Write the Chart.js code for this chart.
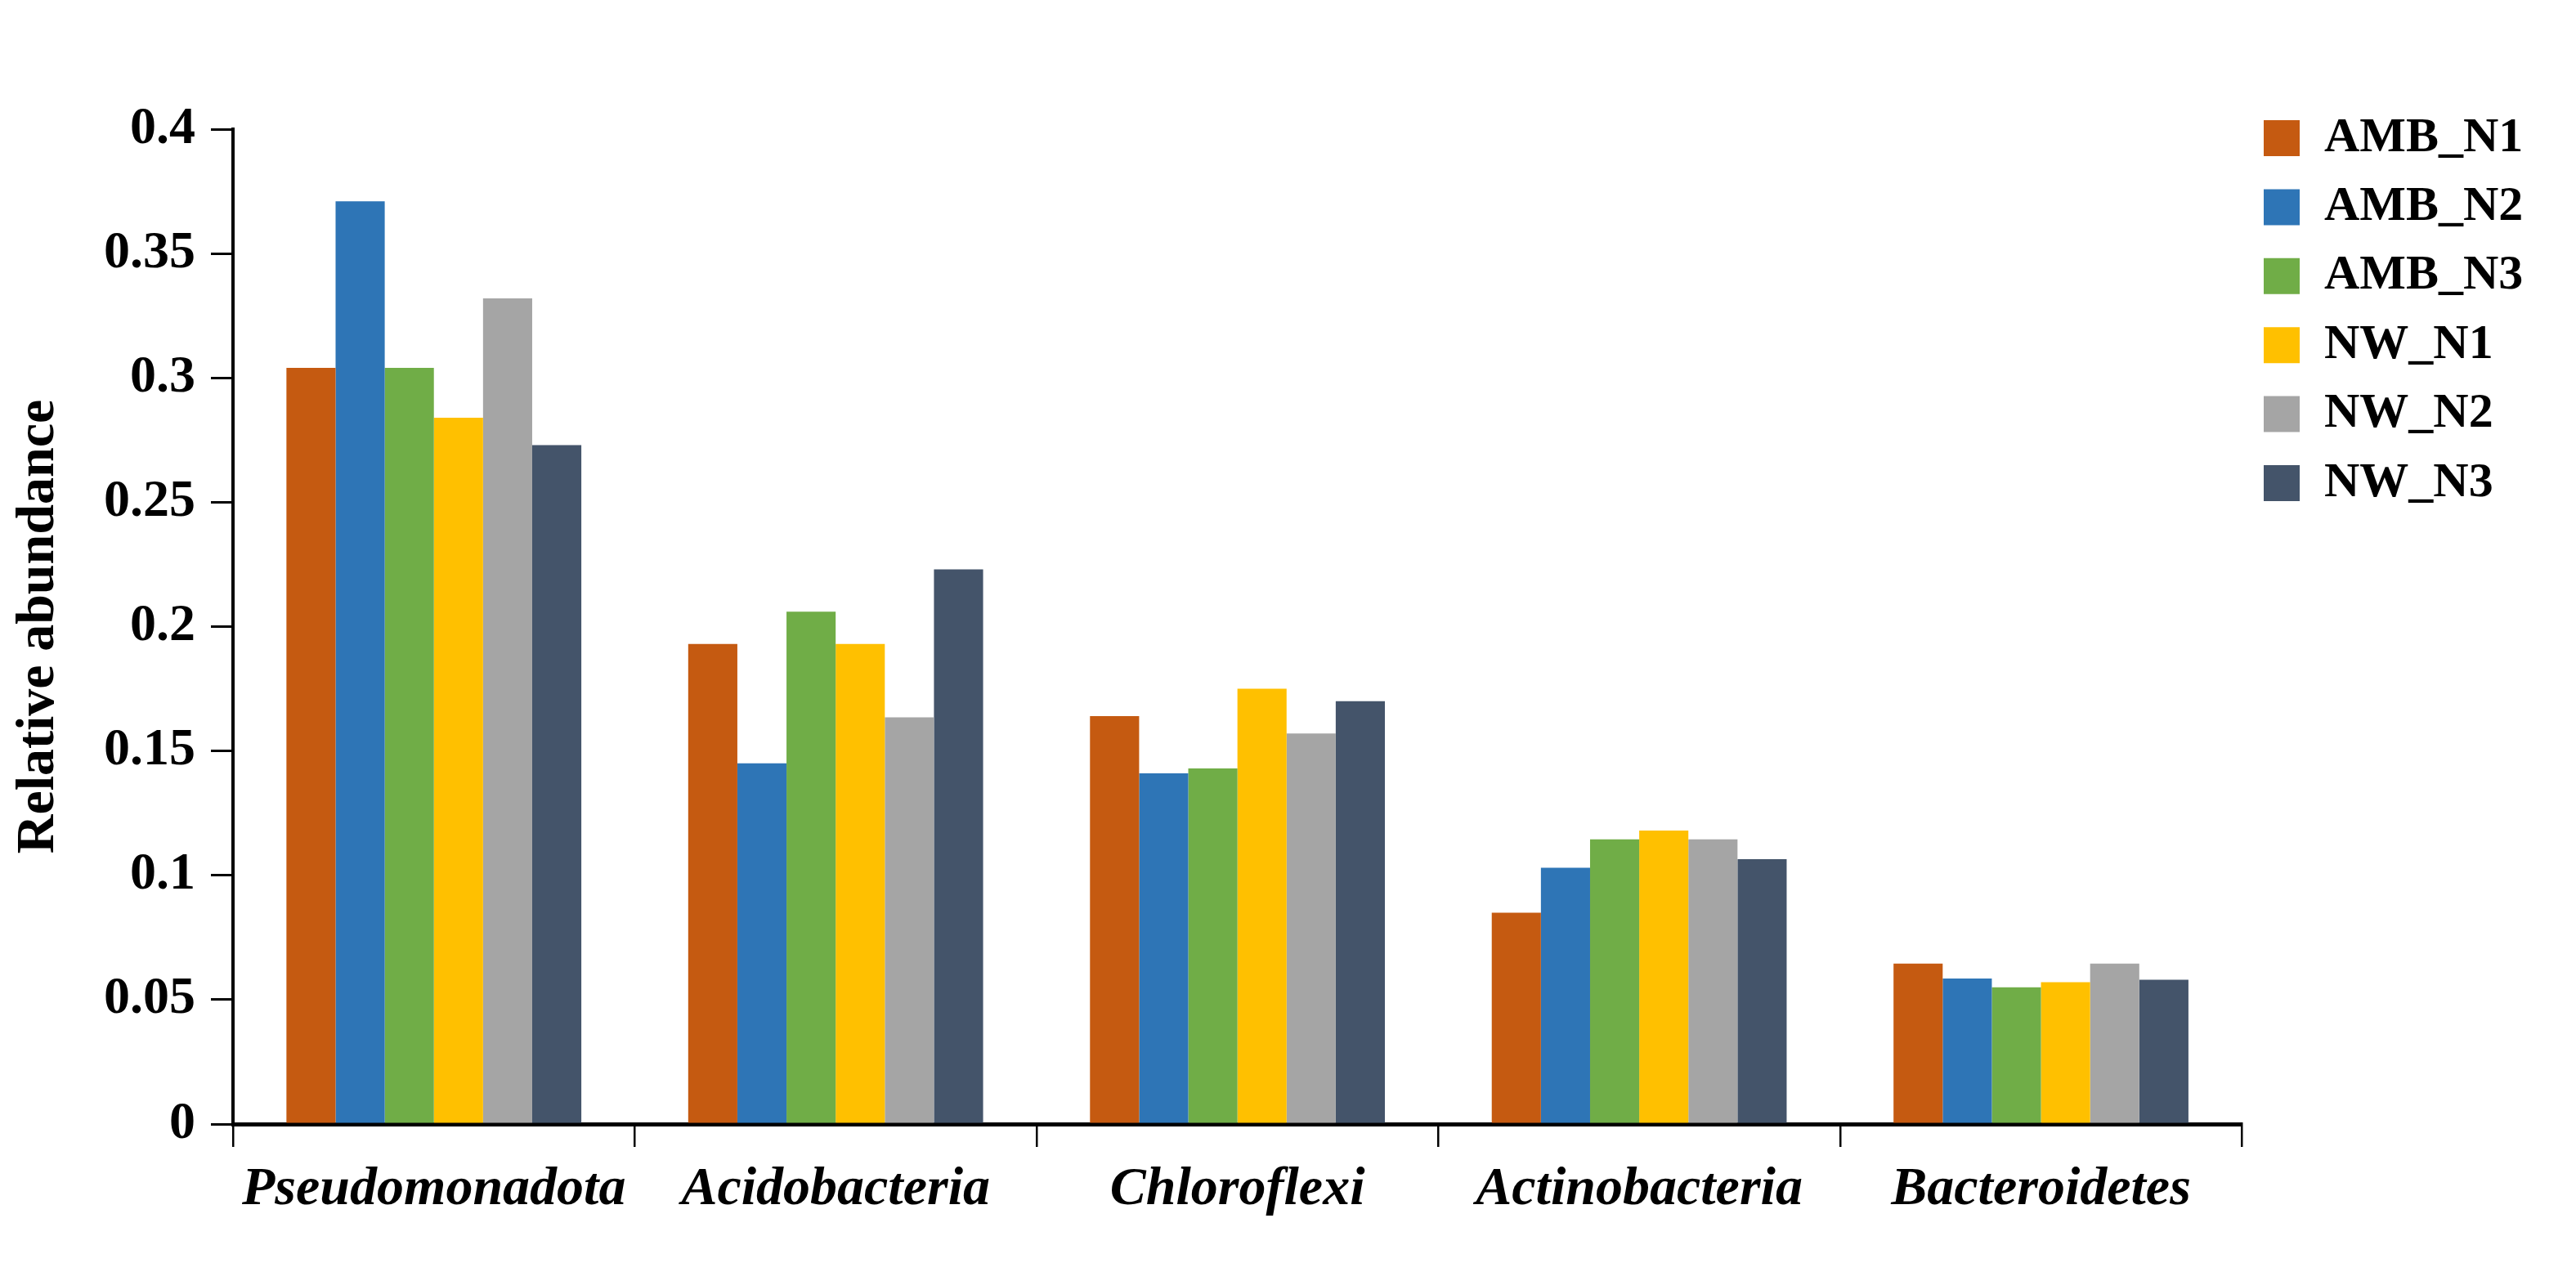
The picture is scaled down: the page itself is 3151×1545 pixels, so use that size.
<!DOCTYPE html>
<html>
<head>
<meta charset="utf-8">
<script src="https://cdn.jsdelivr.net/npm/chart.js@4.4.1/dist/chart.umd.min.js"></script>
<style>
    html, body { margin: 0; padding: 0; background: #fff; }
    #wrap { width: 3151px; height: 1545px; }
</style>
</head>
<body>
<div id="wrap"><canvas id="myChart" width="3151" height="1545"></canvas></div>
<script>
const categories = ['Pseudomonadota', 'Acidobacteria', 'Chloroflexi', 'Actinobacteria', 'Bacteroidetes'];
const seriesNames = ['AMB_N1', 'AMB_N2', 'AMB_N3', 'NW_N1', 'NW_N2', 'NW_N3'];
const seriesColors = ['#C55A11', '#2E75B6', '#70AD47', '#FFC000', '#A5A5A5', '#44546A'];

const amb_n1 = [0.304, 0.193, 0.164, 0.085, 0.0645];
const amb_n2 = [0.371, 0.145, 0.141, 0.103, 0.0585];
const amb_n3 = [0.304, 0.206, 0.143, 0.1145, 0.055];
const nw_n1 = [0.284, 0.193, 0.175, 0.118, 0.057];
const nw_n2 = [0.332, 0.1635, 0.157, 0.1145, 0.0645];
const nw_n3 = [0.273, 0.223, 0.17, 0.1065, 0.058];

const yTicks = [0, 0.05, 0.1, 0.15, 0.2, 0.25, 0.3, 0.35, 0.4];

const serif = '"Liberation Serif", "Times New Roman", serif';
Chart.defaults.color = '#000';

// the legend sits a bit apart from the plot, so move it after layout
const legendPlace = {
    id: 'legendPlace',
    afterLayout(chart) {
        const lg = chart.legend;
        if (!lg) return;
        const dx = 2744.6 - lg.left;
        const dy = 114.6 - lg.top;
        lg.left += dx; lg.right += dx;
        lg.top += dy; lg.bottom += dy;
    }
};

const allSeries = [amb_n1, amb_n2, amb_n3, nw_n1, nw_n2, nw_n3];

const ctx = document.getElementById('myChart').getContext('2d');
const myChart = new Chart(ctx, {
    type: 'bar',
    data: {
        labels: categories,
        datasets: allSeries.map((vals, i) => ({
            label: seriesNames[i],
            data: vals,
            backgroundColor: seriesColors[i],
            borderWidth: 0,
            categoryPercentage: 0.734,
            barPercentage: 1.0
        }))
    },
    options: {
        responsive: false,
        devicePixelRatio: 1,
        animation: false,
        layout: {
            padding: { top: 158, right: 57, bottom: 0, left: 0 }
        },
        plugins: {
            legend: {
                position: 'right',
                align: 'start',
                labels: {
                    boxWidth: 44,
                    boxHeight: 44,
                    padding: 24.4,
                    color: '#000',
                    font: { family: serif, size: 60, weight: 'bold' }
                }
            },
            tooltip: { enabled: false }
        },
        scales: {
            x: {
                grid: {
                    display: true,
                    offset: true,
                    drawOnChartArea: false,
                    drawTicks: true,
                    tickLength: 28,
                    color: '#000',
                    lineWidth: 2.5
                },
                border: { display: true, color: '#000', width: 5 },
                ticks: {
                    color: '#000',
                    padding: 13,
                    maxRotation: 0,
                    autoSkip: false,
                    font: { family: serif, size: 66, weight: 'bold', style: 'italic' }
                },
                afterFit(scale) { scale.height = 170; }
            },
            y: {
                min: 0,
                max: 0.4,
                afterBuildTicks(scale) {
                    scale.ticks = yTicks.map(v => ({ value: v }));
                },
                ticks: {
                    color: '#000',
                    padding: 19,
                    callback: v => String(+v.toFixed(2)),
                    font: { family: serif, size: 64, weight: 'bold' }
                },
                grid: {
                    display: true,
                    drawOnChartArea: false,
                    drawTicks: true,
                    tickLength: 27,
                    color: '#000',
                    lineWidth: 3
                },
                border: { display: true, color: '#000', width: 4 },
                title: {
                    display: true,
                    text: 'Relative abundance',
                    color: '#000',
                    padding: { top: 8, bottom: 0 },
                    font: { family: serif, size: 66, weight: 'bold' }
                },
                afterFit(scale) { scale.width = 285; }
            }
        }
    },
    plugins: [legendPlace]
});
</script>
</body>
</html>
